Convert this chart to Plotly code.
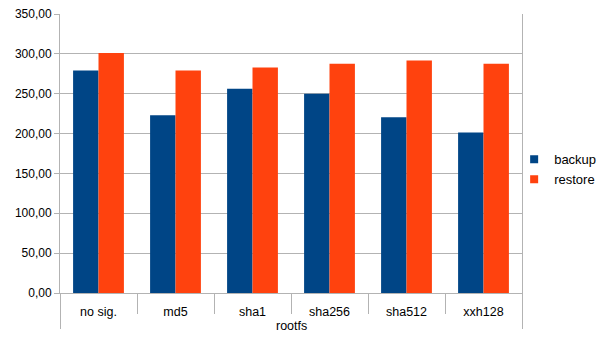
import plotly.graph_objects as go

categories = ["no sig.", "md5", "sha1", "sha256", "sha512", "xxh128"]
group_label = "rootfs"
series_names = ["backup", "restore"]
backup = [279.1, 222.9, 256.2, 250.0, 220.4, 201.2]
restore = [301.2, 279.0, 282.9, 287.5, 291.6, 287.5]
y_ticks = [0, 50, 100, 150, 200, 250, 300, 350]
colors = ["#004586", "#ff420e"]

x = [[" "] * len(categories), categories]

fig = go.Figure()
for name, vals, col in zip(series_names, [backup, restore], colors):
    fig.add_trace(go.Bar(name=name, x=x, y=vals, marker=dict(color=col, line=dict(width=0)),
                         showlegend=False))
# legend entries with small square symbols
for name, col in zip(series_names, colors):
    fig.add_trace(go.Scatter(name=name, x=[None], y=[None], mode="markers",
                             marker=dict(symbol="square", size=8, color=col),
                             showlegend=True))

fig.add_annotation(text=group_label, xref="paper", yref="paper", x=0.5, y=0,
                   xanchor="center", yanchor="middle", yshift=-33, showarrow=False,
                   font=dict(size=12.5))

fig.update_layout(
    width=605, height=340,
    margin=dict(l=60, r=83, t=14, b=47, autoexpand=False),
    paper_bgcolor="white", plot_bgcolor="white",
    separators=", ",
    font=dict(family="Liberation Sans, Arial, sans-serif", size=12, color="#000000"),
    barmode="group", bargap=0.34, bargroupgap=0,
    legend=dict(x=0.983, y=0.443, xanchor="left", yanchor="middle",
                font=dict(size=13), itemwidth=30, tracegroupgap=0,
                bgcolor="rgba(0,0,0,0)"),
    showlegend=True,
)
fig.update_yaxes(
    range=[0, 350], tickvals=y_ticks, tickformat=".2f",
    showgrid=True, gridcolor="#b3b3b3", gridwidth=1,
    showline=True, linecolor="#b3b3b3", linewidth=1, mirror=True,
    ticks="outside", ticklen=5, tickcolor="#b3b3b3",
    zeroline=False, automargin=False,
)
fig.update_xaxes(
    showline=True, linecolor="#b3b3b3", linewidth=1,
    ticks="outside", ticklen=20, tickcolor="#b3b3b3", tickson="boundaries",
    dividercolor="#b3b3b3", dividerwidth=1,
    ticklabelstandoff=7, tickfont=dict(size=12.5),
    showgrid=False, automargin=False,
)
fig.write_html("out.html")
